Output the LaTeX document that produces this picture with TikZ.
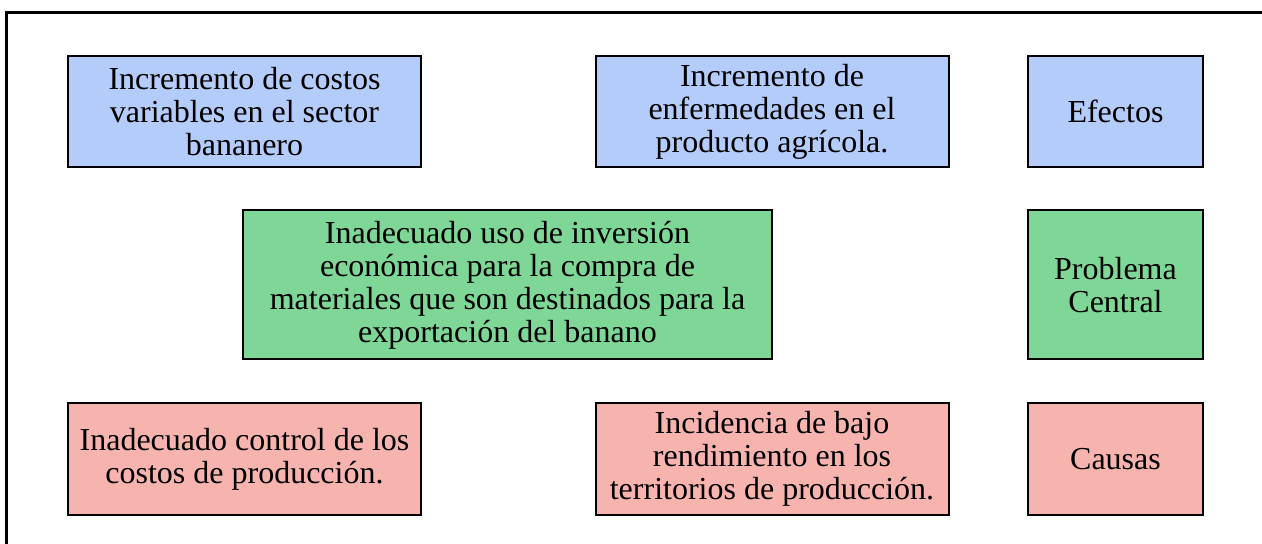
\documentclass[tikz,border=0pt]{standalone}
\usepackage{fontspec}
\setmainfont{Liberation Serif}
\definecolor{efectoblue}{RGB}{180,204,250}
\definecolor{problemagreen}{RGB}{126,215,150}
\definecolor{causapink}{RGB}{247,180,175}
\begin{document}
\begin{tikzpicture}[x=0.5pt,y=-0.5pt,
        caja/.style={draw=black, line width=1pt, align=center, inner sep=0pt,
            font=\fontsize{16}{16.5}\selectfont, minimum height=55.5pt},
        ancha/.style={caja, minimum width=176.5pt},
        angosta/.style={caja, minimum width=87.5pt},
        efecto/.style={fill=efectoblue},
        problema/.style={fill=problemagreen},
        causa/.style={fill=causapink}]
        \useasboundingbox (0,0) rectangle (1262,544);
        \draw[black, line width=1.5pt] (6.5,544) -- (6.5,13) -- (1262,13);
        \node[ancha, efecto] (efecto1) at (244.5,111.5) {Incremento de costos\\variables en el sector\\bananero};
        \node[ancha, efecto] (efecto2) at (772,111.5) {Incremento de\\enfermedades en el\\producto agrícola.};
        \node[angosta, efecto] (efectos) at (1115.5,111.5) {Efectos};
        \node[caja, problema, minimum width=264.5pt, minimum height=74.5pt] (problema1) at (507.5,285) {Inadecuado uso de inversión\\económica para la compra de\\materiales que son destinados para la\\exportación del banano};
        \node[angosta, problema, minimum height=74.5pt] (problemacentral) at (1115.5,285) {Problema\\Central};
        \node[ancha, causa] (causa1) at (244.5,459) {Inadecuado control de los\\costos de producción.};
        \node[ancha, causa] (causa2) at (772,459) {Incidencia de bajo\\rendimiento en los\\territorios de producción.};
        \node[angosta, causa] (causas) at (1115.5,459) {Causas};
    \end{tikzpicture}
\end{document}
